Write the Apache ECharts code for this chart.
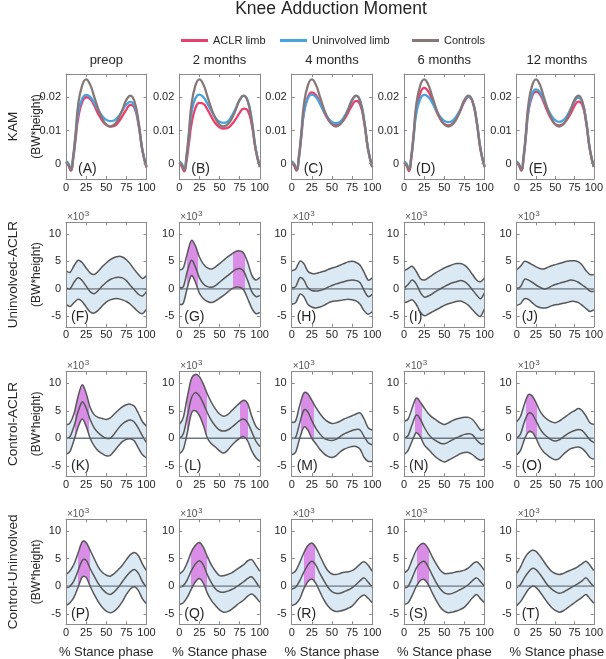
<!DOCTYPE html>
<html><head><meta charset="utf-8">
<script src="https://cdn.jsdelivr.net/npm/echarts@6/dist/echarts.min.js"></script>
<style>html,body{margin:0;padding:0;background:#fff}#c{width:606px;height:659px}</style>
</head><body><div id="c"></div>
<script>
// ---------------- DATA ----------------
const X1 = [0,3,6,9,12,15,20,25,30,35,40,45,50,55,60,65,70,75,80,85,90,95,100];
const X2 = [0,5,10,15,20,25,30,35,40,45,50,55,60,65,70,75,80,85,90,95,100];
const columnTitles = ['preop','2 months','4 months','6 months','12 months'];
const rowTitles = ['KAM','Uninvolved-ACLR','Control-ACLR','Control-Uninvolved'];
const unitLabel = '(BW*height)';
const panelLetters = ['A','B','C','D','E','F','G','H','I','J','K','L','M','N','O','P','Q','R','S','T'];
const xTicks = [0,25,50,75,100];
const legendNames = ['ACLR limb','Uninvolved limb','Controls'];
const xName = '% Stance phase';

// Row 1: KAM curves (BW*height)
const KAM_controls = [0.0005,-0.0003,-0.0019,0.0025,0.0095,0.0175,0.0235,0.0254,0.0238,0.0202,0.0165,0.0136,0.0118,0.0112,0.0118,0.0135,0.0162,0.0192,0.0205,0.0188,0.0128,0.0040,-0.0010];
const A_aclr  = [0.0005,-0.0005,-0.0021,0.0015,0.0075,0.0135,0.0185,0.0200,0.0195,0.0175,0.0150,0.0130,0.0117,0.0112,0.0114,0.0125,0.0143,0.0163,0.0177,0.0168,0.0118,0.0038,-0.0012];
const A_uninv = [0.0008,0.0001,-0.0015,0.0020,0.0085,0.0150,0.0195,0.0207,0.0201,0.0183,0.0162,0.0144,0.0132,0.0128,0.0131,0.0142,0.0160,0.0178,0.0186,0.0174,0.0122,0.0040,-0.0008];
const B_aclr  = [0.0003,-0.0008,-0.0023,0.0008,0.0062,0.0117,0.0167,0.0183,0.0180,0.0163,0.0141,0.0121,0.0110,0.0106,0.0108,0.0118,0.0134,0.0153,0.0166,0.0160,0.0117,0.0042,-0.0008];
const B_uninv = [0.0008,0.0000,-0.0016,0.0021,0.0086,0.0152,0.0197,0.0208,0.0200,0.0180,0.0158,0.0138,0.0126,0.0123,0.0127,0.0143,0.0166,0.0192,0.0204,0.0190,0.0132,0.0044,-0.0008];
const C_aclr  = [0.0004,-0.0006,-0.0021,0.0016,0.0082,0.0150,0.0200,0.0215,0.0207,0.0183,0.0156,0.0134,0.0120,0.0116,0.0120,0.0133,0.0153,0.0176,0.0189,0.0178,0.0125,0.0042,-0.0010];
const C_uninv = [0.0008,0.0000,-0.0016,0.0021,0.0086,0.0151,0.0196,0.0208,0.0201,0.0181,0.0158,0.0138,0.0126,0.0122,0.0126,0.0141,0.0164,0.0190,0.0204,0.0190,0.0132,0.0044,-0.0008];
const D_aclr  = [0.0004,-0.0006,-0.0022,0.0018,0.0088,0.0160,0.0212,0.0228,0.0218,0.0190,0.0158,0.0134,0.0119,0.0115,0.0120,0.0136,0.0160,0.0187,0.0201,0.0187,0.0130,0.0043,-0.0010];
const D_uninv = [0.0008,0.0000,-0.0016,0.0020,0.0084,0.0148,0.0194,0.0207,0.0201,0.0183,0.0160,0.0141,0.0129,0.0125,0.0129,0.0143,0.0164,0.0189,0.0201,0.0188,0.0131,0.0044,-0.0008];
const E_aclr  = [0.0004,-0.0006,-0.0021,0.0017,0.0084,0.0153,0.0203,0.0217,0.0209,0.0185,0.0157,0.0134,0.0119,0.0115,0.0119,0.0132,0.0151,0.0174,0.0187,0.0177,0.0124,0.0041,-0.0010];
const E_uninv = [0.0007,-0.0002,-0.0018,0.0020,0.0088,0.0158,0.0210,0.0224,0.0216,0.0193,0.0166,0.0145,0.0131,0.0126,0.0130,0.0144,0.0165,0.0188,0.0199,0.0186,0.0130,0.0043,-0.0009];

// Rows 2-4: differences (x10^-3 BW*height): upper bound, mean, lower bound, significant intervals (% stance)
const F_upper = [3.3,3.0,4.2,5.2,4.8,3.8,2.9,2.6,3.2,4.0,4.7,5.3,5.7,5.9,5.8,5.3,4.5,3.5,2.6,1.9,2.4];
const F_mean  = [0.2,0.0,1.2,2.0,1.5,0.5,-0.5,-0.9,-0.3,0.5,1.2,1.7,2.0,2.1,2.0,1.5,0.6,-0.2,-1.0,-1.3,-0.5];
const F_lower = [-2.8,-3.2,-2.5,-1.9,-2.3,-3.3,-4.2,-4.4,-3.9,-3.1,-2.4,-2.0,-1.8,-1.8,-2.0,-2.3,-2.8,-3.5,-4.2,-4.5,-3.7];
const F_sig = [];
const G_upper = [3.5,3.8,6.5,8.8,7.8,5.8,4.5,3.8,3.6,4.0,4.6,5.2,5.8,6.3,6.8,6.9,6.5,4.8,2.5,1.6,2.1];
const G_mean  = [0.3,0.4,3.2,5.2,4.0,2.0,0.9,0.4,0.3,0.6,1.2,1.8,2.4,3.0,3.5,3.7,3.2,1.5,-0.5,-1.4,-1.2];
const G_lower = [-2.8,-2.6,0.2,2.4,1.2,-0.8,-1.8,-2.3,-2.5,-2.2,-1.7,-1.2,-0.6,0.0,0.3,0.3,-0.2,-1.8,-3.5,-4.5,-4.3];
const G_sig = [[9,23],[67,81]];
const H_upper = [3.3,3.6,5.0,4.6,3.2,2.8,2.8,3.0,3.2,3.5,3.8,4.0,4.3,4.6,4.9,5.0,4.8,4.3,3.0,1.6,2.0];
const H_mean  = [0.2,0.4,2.0,1.6,0.2,-0.3,-0.4,-0.3,-0.1,0.3,0.6,0.9,1.1,1.3,1.5,1.6,1.5,1.1,-0.3,-1.4,-1.0];
const H_lower = [-2.8,-2.5,-1.0,-1.4,-2.8,-3.3,-3.5,-3.3,-3.0,-2.6,-2.3,-2.2,-2.1,-2.0,-1.9,-2.0,-2.2,-2.8,-4.0,-4.6,-4.2];
const H_sig = [];
const I_upper = [3.3,3.7,4.1,3.2,1.9,1.6,2.0,2.5,3.0,3.4,3.8,4.1,4.4,4.6,4.6,4.3,3.6,2.6,1.6,1.3,2.0];
const I_mean  = [0.1,0.8,1.6,0.9,-0.6,-1.5,-1.3,-0.9,-0.4,0.0,0.4,0.8,1.1,1.3,1.5,1.3,0.7,-0.2,-1.1,-1.8,-0.7];
const I_lower = [-2.5,-2.3,-2.0,-2.8,-4.2,-4.9,-4.6,-4.2,-3.8,-3.4,-3.0,-2.7,-2.5,-2.3,-2.2,-2.5,-3.0,-3.8,-4.6,-5.0,-3.6];
const I_sig = [];
const J_upper = [3.5,4.1,5.0,4.8,4.4,4.0,3.7,3.6,3.9,4.2,4.4,4.6,4.8,5.0,5.1,5.1,4.9,4.3,3.3,2.6,2.6];
const J_mean  = [0.1,0.4,1.7,1.6,1.2,0.7,0.3,0.0,0.1,0.5,0.8,1.0,1.2,1.4,1.6,1.5,1.2,0.7,0.2,-0.4,-0.5];
const J_lower = [-3.0,-2.7,-1.8,-1.9,-2.5,-3.1,-3.4,-3.5,-3.4,-3.1,-2.9,-2.8,-2.6,-2.5,-2.3,-2.3,-2.5,-3.0,-3.6,-4.1,-3.8];
const J_sig = [];
const K_upper = [2.4,2.8,4.5,7.6,9.7,8.2,5.6,4.3,3.8,3.6,3.4,3.7,4.4,5.1,5.7,6.1,6.2,5.8,4.5,3.0,2.2];
const K_mean  = [0.0,0.3,2.2,4.8,6.6,5.5,3.4,1.9,1.0,0.4,0.0,0.0,0.8,1.8,2.6,3.1,3.3,2.9,1.8,0.4,-0.8];
const K_lower = [-2.9,-2.4,-0.3,2.0,3.5,2.2,0.0,-1.4,-2.3,-2.8,-3.2,-3.1,-2.3,-1.4,-0.6,-0.2,-0.1,-0.5,-1.8,-3.0,-3.6];
const K_sig = [[11,29]];
const L_upper = [2.5,3.8,7.5,10.8,11.6,11.2,9.8,8.0,6.5,5.3,4.4,4.0,4.3,5.0,5.7,6.4,6.9,6.3,4.0,2.2,1.5];
const L_mean  = [0.0,0.8,4.0,7.3,8.3,7.7,6.3,4.6,3.2,2.2,1.5,1.3,1.5,2.0,2.6,3.2,3.5,2.8,1.2,-0.5,-1.5];
const L_lower = [-2.8,-2.0,1.0,4.5,5.0,4.1,2.3,0.0,-1.0,-1.6,-2.3,-2.7,-2.2,-1.3,-0.6,0.0,0.3,-0.5,-2.3,-3.5,-4.2];
const L_sig = [[9,35],[76,85]];
const M_upper = [2.9,3.2,6.0,8.2,8.1,6.9,5.6,4.5,3.6,3.0,2.7,2.8,3.1,3.5,3.8,4.1,4.4,4.6,3.5,1.9,1.5];
const M_mean  = [0.0,0.2,2.8,5.1,4.8,3.2,1.8,0.8,0.0,-0.3,-0.4,-0.2,0.3,0.8,1.1,1.4,1.6,1.5,0.3,-0.8,-1.2];
const M_lower = [-3.0,-2.5,0.0,2.0,1.5,0.0,-1.0,-2.0,-2.8,-3.3,-3.5,-3.2,-2.5,-2.0,-1.7,-1.5,-1.5,-2.0,-3.5,-4.2,-4.2];
const M_sig = [[11,28]];
const N_upper = [3.1,3.5,5.5,7.3,6.6,5.5,4.5,3.8,3.3,2.8,2.5,2.8,3.2,3.5,3.7,3.8,3.8,3.4,2.5,1.5,1.7];
const N_mean  = [0.0,0.5,2.5,4.2,3.5,2.0,0.8,0.0,-0.5,-0.9,-1.0,-0.7,-0.3,0.1,0.4,0.7,0.8,0.6,-0.3,-1.0,-1.0];
const N_lower = [-3.0,-2.2,-0.5,1.0,0.3,-1.2,-2.0,-2.8,-3.5,-4.0,-4.3,-4.0,-3.6,-3.2,-2.8,-2.6,-2.6,-3.0,-3.6,-4.0,-3.7];
const N_sig = [[13,22]];
const O_upper = [3.0,4.0,6.2,7.9,7.7,6.5,5.0,4.0,3.4,3.0,2.8,3.1,3.6,4.1,4.6,5.0,5.4,5.0,4.0,2.8,2.5];
const O_mean  = [0.0,0.8,3.0,4.5,4.4,3.2,1.8,0.8,0.2,-0.3,-0.5,-0.3,0.2,0.7,1.1,1.4,1.6,1.4,0.6,-0.3,-0.8];
const O_lower = [-3.0,-2.2,-0.2,1.1,1.1,0.0,-1.5,-2.5,-3.1,-3.6,-3.9,-3.7,-3.0,-2.4,-1.9,-1.7,-1.6,-1.9,-2.6,-3.5,-3.8];
const O_sig = [[12,26]];
const P_upper = [2.1,2.8,4.0,6.0,8.0,7.9,6.5,5.0,3.5,2.5,2.0,1.8,2.3,3.0,3.8,4.8,5.7,6.1,5.5,4.0,2.8];
const P_mean  = [-0.3,0.0,1.0,2.8,4.6,4.7,3.2,1.8,0.5,-0.5,-1.2,-1.5,-1.0,-0.2,0.8,1.8,2.6,3.0,2.3,0.8,-0.2];
const P_lower = [-3.5,-3.0,-2.0,-0.2,1.6,1.6,0.0,-1.5,-2.8,-3.8,-4.5,-4.8,-4.5,-3.8,-2.8,-1.5,-0.5,-0.1,-0.8,-2.3,-3.2];
const P_sig = [[15.5,30]];
const Q_upper = [2.2,2.8,4.3,6.2,7.4,7.9,7.0,5.3,3.8,2.7,1.9,1.9,2.1,2.4,2.9,3.4,3.9,4.6,4.8,3.8,2.7];
const Q_mean  = [-0.2,0.1,1.2,2.8,4.0,4.6,3.8,2.0,0.6,-0.5,-1.0,-1.1,-0.9,-0.6,-0.2,0.3,0.8,1.4,1.7,0.8,-0.3];
const Q_lower = [-3.3,-3.0,-2.0,-0.5,0.8,1.4,0.5,-1.3,-2.6,-3.5,-4.3,-4.7,-4.6,-4.2,-3.6,-3.0,-2.5,-1.8,-1.4,-2.0,-2.9];
const Q_sig = [[15,35]];
const R_upper = [2.3,2.8,4.3,6.0,7.3,7.8,7.0,5.5,4.0,2.8,2.2,2.1,2.3,2.5,2.6,2.8,3.3,4.0,4.4,3.8,2.7];
const R_mean  = [-0.5,-0.2,1.0,2.5,3.8,4.5,3.8,2.3,1.0,-0.2,-1.0,-1.3,-1.3,-1.0,-0.7,-0.3,0.3,1.0,1.5,0.7,-0.2];
const R_lower = [-3.5,-3.2,-2.3,-0.5,0.8,1.3,0.5,-1.0,-2.5,-3.6,-4.3,-4.6,-4.5,-4.3,-4.0,-3.6,-2.8,-2.0,-1.6,-2.2,-3.0];
const R_sig = [[15,28.5]];
const S_upper = [2.4,3.0,4.8,6.5,7.5,7.7,6.8,5.3,4.0,2.9,2.3,2.3,2.4,2.6,2.7,2.9,3.3,4.0,4.4,3.8,2.8];
const S_mean  = [-0.3,0.0,1.5,3.2,4.2,4.5,3.5,2.0,0.6,-0.5,-1.2,-1.4,-1.3,-1.0,-0.6,-0.2,0.3,1.0,1.5,0.8,0.0];
const S_lower = [-3.3,-3.0,-1.7,-0.1,1.0,1.2,0.3,-1.2,-2.6,-3.8,-4.5,-4.8,-4.7,-4.5,-4.2,-3.8,-3.0,-2.1,-1.5,-2.3,-3.0];
const S_sig = [[16,31]];
const T_upper = [2.3,3.5,5.0,6.0,6.5,6.3,5.5,4.5,3.5,2.7,2.3,2.1,2.3,2.6,2.9,3.2,3.6,4.1,4.5,3.8,2.8];
const T_mean  = [-0.3,0.3,1.5,2.5,3.2,3.0,2.2,1.2,0.2,-0.5,-1.0,-1.3,-1.1,-0.7,-0.3,0.1,0.5,1.0,1.5,0.7,-0.1];
const T_lower = [-3.5,-2.8,-1.7,-0.6,0.0,-0.2,-1.0,-2.0,-3.0,-3.8,-4.4,-4.7,-4.5,-4.0,-3.5,-3.0,-2.5,-2.0,-1.5,-2.3,-3.1];
const T_sig = [];

// ---------------- BUILD ----------------
const kamPanels = [[A_aclr,A_uninv],[B_aclr,B_uninv],[C_aclr,C_uninv],[D_aclr,D_uninv],[E_aclr,E_uninv]];
const diffPanels = [
  [F_upper,F_mean,F_lower,F_sig],[G_upper,G_mean,G_lower,G_sig],[H_upper,H_mean,H_lower,H_sig],[I_upper,I_mean,I_lower,I_sig],[J_upper,J_mean,J_lower,J_sig],
  [K_upper,K_mean,K_lower,K_sig],[L_upper,L_mean,L_lower,L_sig],[M_upper,M_mean,M_lower,M_sig],[N_upper,N_mean,N_lower,N_sig],[O_upper,O_mean,O_lower,O_sig],
  [P_upper,P_mean,P_lower,P_sig],[Q_upper,Q_mean,Q_lower,Q_sig],[R_upper,R_mean,R_lower,R_sig],[S_upper,S_mean,S_lower,S_sig],[T_upper,T_mean,T_lower,T_sig]
];

const FF = '"Liberation Sans", Arial, Helvetica, sans-serif';
const TXT = '#262626';
const AX = '#8a8a8a';
const COL_ACLR = '#ea3f6c', COL_UNINV = '#49a3dd', COL_CTRL = '#867878';
const BAND = '#dbe9f5', SIG = '#d98de6', EDGE = '#575757', ZERO = '#6c7984';

const colLeft = [66, 179.3, 291.7, 404.1, 516.7];
const rowTop = [74, 222.3, 371.7, 519.3];
const rowH = [105, 104.5, 104.5, 105];
const PW = 80.5;

const grid = [], xAxis = [], yAxis = [], series = [], graphic = [];

function axisBase(gi) {
  return {
    gridIndex: gi, type: 'value', z: 10,
    axisLine: { show: true, onZero: false, lineStyle: { color: AX, width: 1 } },
    axisTick: { show: true, inside: true, length: 3, lineStyle: { color: AX, width: 1 } },
    splitLine: { show: false }
  };
}

// Catmull-Rom -> cubic bezier path through pixel points (rendering only)
function curveCmds(pts, startCmd) {
  let d = startCmd + pts[0][0].toFixed(2) + ',' + pts[0][1].toFixed(2);
  for (let i = 0; i < pts.length - 1; i++) {
    const p0 = pts[i - 1] || pts[i], p1 = pts[i], p2 = pts[i + 1], p3 = pts[i + 2] || pts[i + 1];
    const t = 1 / 6;
    const c1x = p1[0] + (p2[0] - p0[0]) * t, c1y = p1[1] + (p2[1] - p0[1]) * t;
    const c2x = p2[0] - (p3[0] - p1[0]) * t, c2y = p2[1] - (p3[1] - p1[1]) * t;
    d += ' C' + c1x.toFixed(2) + ',' + c1y.toFixed(2) + ' ' + c2x.toFixed(2) + ',' + c2y.toFixed(2) + ' ' + p2[0].toFixed(2) + ',' + p2[1].toFixed(2);
  }
  return d;
}

function makeBandRender(sig) {
  return function (params, api) {
    if (params.dataIndexInside !== 0) return null;
    const n = params.dataInsideLength;
    const up = [], mn = [], lo = [];
    for (let j = 0; j < n; j++) {
      const x = api.value(0, j);
      lo.push(api.coord([x, api.value(1, j)]));
      mn.push(api.coord([x, api.value(2, j)]));
      up.push(api.coord([x, api.value(3, j)]));
    }
    const x0 = up[0][0], x1 = up[n - 1][0];
    const stops = [{ offset: 0, color: BAND }];
    sig.forEach(([a, b]) => {
      const pa = (api.coord([a, 0])[0] - x0) / (x1 - x0), pb = (api.coord([b, 0])[0] - x0) / (x1 - x0);
      stops.push({ offset: pa, color: BAND }, { offset: pa, color: SIG }, { offset: pb, color: SIG }, { offset: pb, color: BAND });
    });
    stops.push({ offset: 1, color: BAND });
    const fillPath = curveCmds(up, 'M') + ' L' + lo[n - 1][0].toFixed(2) + ',' + lo[n - 1][1].toFixed(2) +
      curveCmds(lo.slice().reverse(), ' L').replace(/^ L[^ C]*/, '') + ' Z';
    const zeroL = api.coord([api.value(0, 0), 0]), zeroR = api.coord([api.value(0, n - 1), 0]);
    return {
      type: 'group',
      children: [
        { type: 'path', shape: { pathData: fillPath }, style: { fill: new echarts.graphic.LinearGradient(x0, 0, x1, 0, stops, true), stroke: null } },
        { type: 'line', shape: { x1: zeroL[0], y1: zeroL[1], x2: zeroR[0], y2: zeroR[1] }, style: { stroke: ZERO, lineWidth: 1.3 } },
        { type: 'path', shape: { pathData: curveCmds(up, 'M') }, style: { fill: null, stroke: EDGE, lineWidth: 1.5 } },
        { type: 'path', shape: { pathData: curveCmds(lo, 'M') }, style: { fill: null, stroke: EDGE, lineWidth: 1.5 } },
        { type: 'path', shape: { pathData: curveCmds(mn, 'M') }, style: { fill: null, stroke: EDGE, lineWidth: 1.5 } }
      ]
    };
  };
}

for (let r = 0; r < 4; r++) {
  for (let c = 0; c < 5; c++) {
    const gi = grid.length;
    grid.push({ left: colLeft[c], top: rowTop[r], width: PW, height: rowH[r] });
    const lbl = { fontSize: 11, color: TXT, fontFamily: FF };
    ['bottom', 'top'].forEach(pos => {
      xAxis.push(Object.assign(axisBase(gi), {
        position: pos, min: xTicks[0], max: xTicks[xTicks.length - 1], interval: xTicks[1] - xTicks[0],
        axisLabel: Object.assign({ show: pos === 'bottom', margin: 3 }, lbl)
      }));
    });
    const yr = r === 0 ? { min: -0.0046, max: 0.027, step: 0.01 } : { min: -6.9, max: 12.1, step: 5 };
    ['left', 'right'].forEach(pos => {
      yAxis.push(Object.assign(axisBase(gi), {
        position: pos, min: yr.min, max: yr.max, minInterval: yr.step, maxInterval: yr.step, splitNumber: 3,
        axisLabel: Object.assign({
          show: pos === 'left', margin: 5, showMinLabel: false, showMaxLabel: false,
          formatter: v => r === 0 ? (Math.abs(v) < 1e-9 ? '0' : v.toFixed(2)) : String(Math.round(v))
        }, lbl)
      }));
    });
    const xi = 2 * gi, yi = 2 * gi;

    if (r === 0) {
      const [aclr, uninv] = kamPanels[c];
      [[legendNames[0], aclr, COL_ACLR], [legendNames[1], uninv, COL_UNINV], [legendNames[2], KAM_controls, COL_CTRL]].forEach(([nm, arr, col]) => {
        series.push({
          type: 'line', xAxisIndex: xi, yAxisIndex: yi, smooth: true, symbol: 'none', silent: true,
          name: nm, data: X1.map((x, i) => [x, arr[i]]),
          lineStyle: { color: col, width: 2.3 }, itemStyle: { color: col }
        });
      });
    } else {
      const [up, mn, lo, sig] = diffPanels[(r - 1) * 5 + c];
      series.push({
        type: 'custom', name: 'diff' + gi, xAxisIndex: xi, yAxisIndex: yi, silent: true, clip: true,
        encode: { x: 0, y: [1, 2, 3] },
        data: X2.map((x, i) => [x, lo[i], mn[i], up[i]]),
        renderItem: makeBandRender(sig)
      });
      graphic.push({ type: 'text', x: colLeft[c] + 1, y: rowTop[r] - 5,
        style: { text: '\u00d710', fontSize: 10, fontFamily: FF, fill: '#555', align: 'left', verticalAlign: 'middle' } });
      graphic.push({ type: 'text', x: colLeft[c] + 16, y: rowTop[r] - 9,
        style: { text: '-3', fontSize: 8, fontFamily: FF, fill: '#555', align: 'left', verticalAlign: 'middle' } });
    }
    graphic.push({ type: 'text', x: colLeft[c] + (r === 0 ? 12 : 5), y: rowTop[r] + rowH[r] - 10,
      style: { text: '(' + panelLetters[gi] + ')', fontSize: 14, fontFamily: FF, fill: TXT, align: 'left', verticalAlign: 'middle' } });
  }
}

columnTitles.forEach((t, c) => graphic.push({ type: 'text', x: colLeft[c] + PW / 2, y: 60,
  style: { text: t, fontSize: 13, fontFamily: FF, fill: TXT, align: 'center', verticalAlign: 'middle' } }));
rowTitles.forEach((t, r) => {
  const cy = rowTop[r] + rowH[r] / 2;
  graphic.push({ type: 'text', x: 13, y: cy, rotation: Math.PI / 2,
    style: { text: t, fontSize: 13.5, fontFamily: FF, fill: TXT, align: 'center', verticalAlign: 'middle' } });
  graphic.push({ type: 'text', x: 37, y: cy, rotation: Math.PI / 2,
    style: { text: unitLabel, fontSize: 12, fontFamily: FF, fill: TXT, align: 'center', verticalAlign: 'middle' } });
});
colLeft.forEach(l => graphic.push({ type: 'text', x: l + PW / 2, y: 652,
  style: { text: xName, fontSize: 13, fontFamily: FF, fill: TXT, align: 'center', verticalAlign: 'middle' } }));
graphic.push({ type: 'text', x: 331, y: 9,
  style: { text: 'Knee Adduction Moment', fontSize: 17.5, fontFamily: FF, fill: TXT, align: 'center', verticalAlign: 'middle' } });

const legendLeft = [176, 275, 407];
const legend = legendNames.map((n, i) => ({
  left: legendLeft[i], top: 30, data: [n], icon: 'rect', itemWidth: 27, itemHeight: 3,
  selectedMode: false, textStyle: { fontSize: 11, color: TXT, fontFamily: FF }
}));

const chart = echarts.init(document.getElementById('c'), null, { renderer: 'canvas' });
chart.setOption({ animation: false, backgroundColor: '#fff', grid, xAxis, yAxis, series, graphic, legend });
</script></body></html>
